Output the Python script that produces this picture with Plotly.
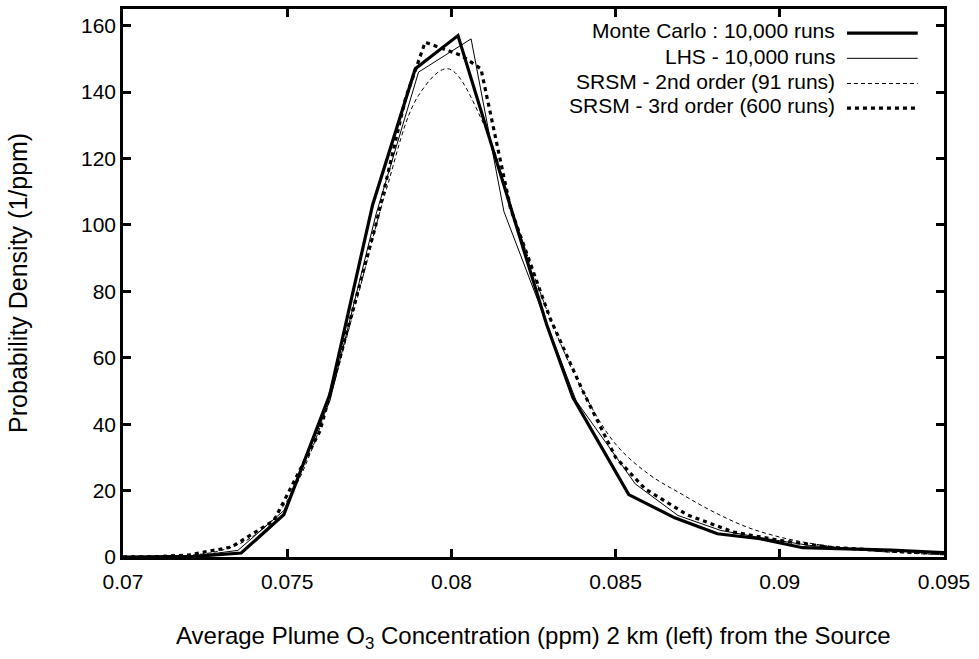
import plotly.graph_objects as go

# ---- data ----
mc_x = [0.0700, 0.0722, 0.0736, 0.0749, 0.0763, 0.0776, 0.0789, 0.0802, 0.0829, 0.0837,
        0.0854, 0.0868, 0.0881, 0.0894, 0.0907, 0.0921, 0.0934, 0.0948, 0.0950]
mc_y = [0.0, 0.2, 1.2, 12.8, 49, 106, 147, 157, 70, 48,
        18.8, 11.8, 7.0, 5.5, 2.8, 2.4, 2.1, 1.4, 1.3]

lhs_x = [0.0700, 0.0722, 0.0735, 0.0749, 0.0763, 0.0777, 0.0790, 0.0806, 0.0816, 0.0828,
         0.0838, 0.0856, 0.0869, 0.0882, 0.0896, 0.0909, 0.0922, 0.0936, 0.0950]
lhs_y = [0.0, 0.3, 2.0, 14, 47, 103, 146, 156, 104, 73,
         47, 22, 12.5, 8.0, 5.5, 3.5, 2.5, 1.8, 1.2]

srsm2_x = [0.070, 0.071, 0.072, 0.073, 0.074, 0.075, 0.076, 0.077, 0.078, 0.079, 0.0799,
           0.081, 0.082, 0.083, 0.084, 0.085, 0.086, 0.087, 0.088, 0.089, 0.090,
           0.091, 0.092, 0.093, 0.094, 0.095]
srsm2_y = [0.0, 0.1, 0.5, 2.0, 6.5, 17, 39, 73, 110, 139, 147,
           130, 100, 72, 50, 34, 25, 19, 13.5, 9.0, 6.0,
           4.0, 2.6, 1.7, 1.1, 0.7]

srsm3_x = [0.0700, 0.0710, 0.0720, 0.0733, 0.0746, 0.0760, 0.0777, 0.0786, 0.0792,
           0.0803, 0.0809, 0.0818, 0.0830, 0.0840, 0.0850, 0.0859, 0.0872, 0.0886, 0.0900,
           0.0915, 0.0930, 0.0950]
srsm3_y = [0.0, 0.1, 0.6, 3.0, 11, 38, 100, 138, 155,
           151, 147, 105, 72, 50, 30, 20.5, 12.6, 7.5, 5.0,
           3.0, 2.0, 1.0]

legend_labels = ["Monte Carlo : 10,000 runs", "LHS - 10,000 runs",
                 "SRSM - 2nd order (91 runs)", "SRSM - 3rd order (600 runs)"]

x_ticks = [0.07, 0.075, 0.08, 0.085, 0.09, 0.095]
x_tick_text = ["0.07", "0.075", "0.08", "0.085", "0.09", "0.095"]
y_ticks = [0, 20, 40, 60, 80, 100, 120, 140, 160]

x_title = "Average Plume O<sub>3</sub> Concentration (ppm) 2 km (left) from the Source"
y_title = "Probability Density (1/ppm)"

FONT = "Liberation Sans, Arial, Helvetica, sans-serif"

styles = [
    dict(color="black", width=3.2, dash="solid"),
    dict(color="black", width=1.0, dash="solid"),
    dict(color="black", width=1.0, dash="4px,3px"),
    dict(color="black", width=3.2, dash="4px,4px"),
]

fig = go.Figure()
series = [(mc_x, mc_y, "linear"), (lhs_x, lhs_y, "linear"),
          (srsm2_x, srsm2_y, "spline"), (srsm3_x, srsm3_y, "linear")]
for (xs, ys, shape), st, name in zip(series, styles, legend_labels):
    fig.add_trace(go.Scatter(x=xs, y=ys, mode="lines", name=name,
                             line=dict(color=st["color"], width=st["width"],
                                       dash=st["dash"], shape=shape),
                             showlegend=False))

# manual legend (text right-aligned, sample line to the right, like gnuplot)
row_y = [0.960, 0.914, 0.868, 0.823]
for lab, st, yy in zip(legend_labels, styles, row_y):
    fig.add_annotation(x=0.870, y=yy, xref="paper", yref="paper", text=lab,
                       showarrow=False, xanchor="right", yanchor="middle",
                       font=dict(family=FONT, size=21, color="black"))
    fig.add_shape(type="line", xref="paper", yref="paper",
                  x0=0.8818, x1=0.9680, y0=yy - 0.004, y1=yy - 0.004,
                  line=dict(color="black", width=st["width"], dash=st["dash"]))

# axis titles
fig.add_annotation(x=0.5, y=-0.147, xref="paper", yref="paper", text=x_title,
                   showarrow=False, xanchor="center", yanchor="middle",
                   font=dict(family=FONT, size=24, color="black"))
fig.add_annotation(x=-0.128, y=0.5, xref="paper", yref="paper", text=y_title,
                   showarrow=False, xanchor="center", yanchor="middle", textangle=-90,
                   font=dict(family=FONT, size=25, color="black"))

axis_common = dict(showline=True, linecolor="black", linewidth=2.5, mirror="ticks",
                   ticks="inside", ticklen=8, tickwidth=2.5, tickcolor="black",
                   showgrid=False, zeroline=False,
                   tickfont=dict(family=FONT, size=21, color="black"))

fig.update_layout(
    width=979, height=659,
    margin=dict(l=123, r=35, t=6, b=102),
    paper_bgcolor="white", plot_bgcolor="white",
    font=dict(family=FONT, color="black"),
    xaxis=dict(range=[0.07, 0.095], tickvals=x_ticks, ticktext=x_tick_text,
               ticklabelstandoff=4, **axis_common),
    yaxis=dict(range=[0, 165], tickvals=y_ticks, ticklabelstandoff=0,
               **axis_common),
)

fig.write_html("out.html", config={"displayModeBar": False},
               post_script="document.body.style.margin='0';document.body.style.overflow='hidden';")
